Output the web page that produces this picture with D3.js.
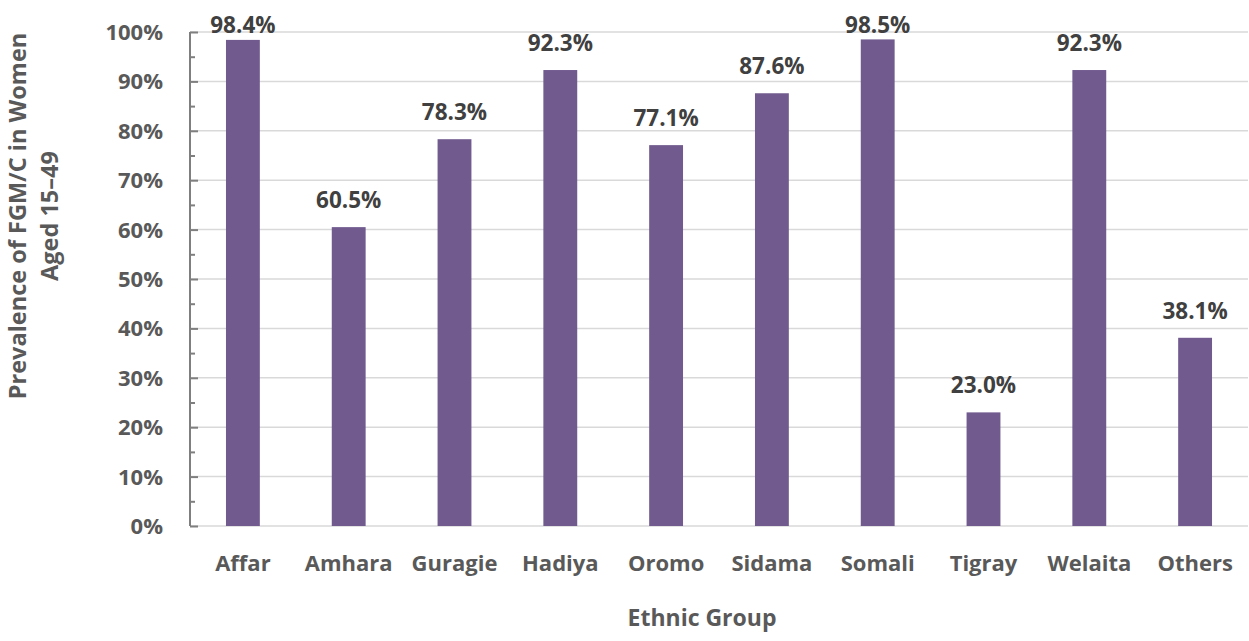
<!DOCTYPE html>
<html>
<head>
<meta charset="utf-8">
<script src="https://cdn.jsdelivr.net/npm/d3@7"></script>
<style>
  body { margin: 0; background: #fff; }
  text { font-family: "Open Sans", sans-serif; font-weight: bold; fill: #595959; }
</style>
</head>
<body>
<div id="chart"></div>
<script>
// data
var groups = ["Affar", "Amhara", "Guragie", "Hadiya", "Oromo", "Sidama", "Somali", "Tigray", "Welaita", "Others"];
var prevalence = [98.4, 60.5, 78.3, 92.3, 77.1, 87.6, 98.5, 23.0, 92.3, 38.1];
var yTicks = [0, 10, 20, 30, 40, 50, 60, 70, 80, 90, 100];
var yMinorTicks = [5, 15, 25, 35, 45, 55, 65, 75, 85, 95];

// svg container
var svgWidth = 1249;
var svgHeight = 641;

var margin = { top: 32, bottom: 115, left: 190, right: 1 };
var chartWidth = svgWidth - margin.left - margin.right;
var chartHeight = svgHeight - margin.top - margin.bottom;

var svg = d3.select("#chart").append("svg").attr("width", svgWidth).attr("height", svgHeight);
var chartGroup = svg.append("g").attr("transform", `translate(${margin.left}, ${margin.top})`);

// scales
var xScale = d3.scaleBand().domain(groups).range([0, chartWidth]).paddingInner(0.68).paddingOuter(0.34);
var yScale = d3.scaleLinear().domain([0, 100]).range([chartHeight, 0]);

// gridlines
chartGroup.append("g").selectAll("line").data(yTicks).enter()
    .append("line")
    .attr("x1", 0).attr("x2", chartWidth)
    .attr("y1", d => yScale(d)).attr("y2", d => yScale(d))
    .attr("stroke", "#d9d9d9").attr("stroke-width", 1.5);

// bars
chartGroup.selectAll("rect").data(prevalence).enter()
    .append("rect")
    .attr("x", (d, i) => xScale(groups[i]))
    .attr("y", d => yScale(d))
    .attr("width", xScale.bandwidth())
    .attr("height", d => chartHeight - yScale(d))
    .attr("fill", "#705a8e");

// value labels
chartGroup.selectAll(".value").data(prevalence).enter()
    .append("text")
    .attr("class", "value")
    .attr("x", (d, i) => xScale(groups[i]) + xScale.bandwidth() / 2)
    .attr("y", d => Math.max(yScale(d) - 19, 1))
    .attr("text-anchor", "middle")
    .attr("font-size", "22.5px")
    .style("fill", "#404040")
    .text(d => d.toFixed(1) + "%");

// y axis: major ticks inward, minor ticks inward
var yAxis = d3.axisRight(yScale).tickValues(yTicks).tickSize(8).tickFormat("");
var yAxisG = chartGroup.append("g").call(yAxis);
yAxisG.select(".domain").attr("stroke", "#7f7f7f").attr("stroke-width", 2).attr("d", `M0,${chartHeight}V0`);
yAxisG.selectAll("line").attr("stroke", "#7f7f7f").attr("stroke-width", 2);

var yMinor = d3.axisRight(yScale).tickValues(yMinorTicks).tickSize(5).tickFormat("");
var yMinorG = chartGroup.append("g").call(yMinor);
yMinorG.select(".domain").remove();
yMinorG.selectAll("line").attr("stroke", "#7f7f7f").attr("stroke-width", 2);

// y tick labels
chartGroup.append("g").selectAll("text").data(yTicks).enter()
    .append("text")
    .attr("x", -27)
    .attr("y", d => yScale(d))
    .attr("dy", "0.36em")
    .attr("text-anchor", "end")
    .attr("font-size", "22px")
    .text(d => d + "%");

// x axis labels
var xAxis = d3.axisBottom(xScale).tickSize(0).tickPadding(29);
var xAxisG = chartGroup.append("g").attr("transform", `translate(0, ${chartHeight})`).call(xAxis);
xAxisG.select(".domain").remove();
xAxisG.selectAll("text")
    .attr("font-size", "22px")
    .style("font-family", "'Open Sans', sans-serif")
    .style("font-weight", "bold")
    .style("fill", "#595959");

// axis titles
svg.append("text")
    .attr("x", 702)
    .attr("y", 626)
    .attr("text-anchor", "middle")
    .attr("font-size", "23px")
    .text("Ethnic Group");

var yTitle = svg.append("text")
    .attr("transform", "translate(0, 216) rotate(-90)")
    .attr("text-anchor", "middle")
    .attr("font-size", "23.5px");
yTitle.append("tspan").attr("x", 0).attr("y", 26).text("Prevalence of FGM/C in Women");
yTitle.append("tspan").attr("x", 0).attr("y", 58).text("Aged 15\u201349");
</script>
</body>
</html>
